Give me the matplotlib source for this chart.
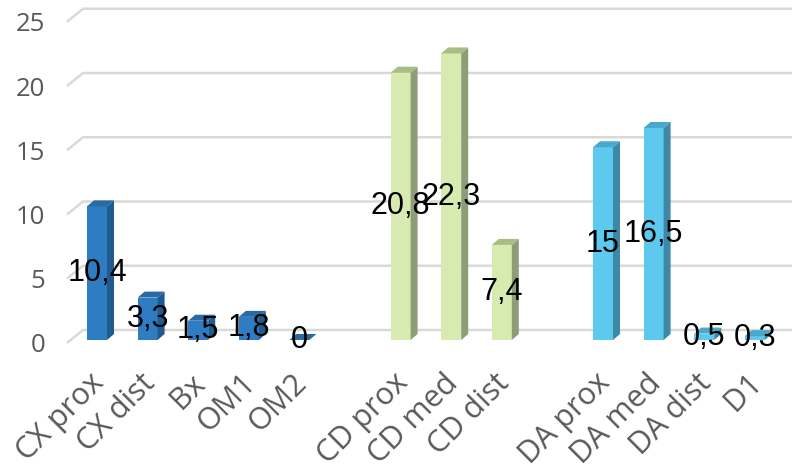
import numpy as np
import matplotlib
matplotlib.use("Agg")
import matplotlib.pyplot as plt
import matplotlib.transforms as mtransforms
from matplotlib.patches import Polygon

# ---- data ----
categories = ["CX prox", "CX dist", "Bx", "OM1", "OM2",
              "CD prox", "CD med", "CD dist",
              "DA prox", "DA med", "DA dist", "D1"]
values = [10.4, 3.3, 1.5, 1.8, 0, 20.8, 22.3, 7.4, 15, 16.5, 0.5, 0.3]
labels = ["10,4", "3,3", "1,5", "1,8", "0", "20,8", "22,3", "7,4",
          "15", "16,5", "0,5", "0,3"]
groups = [0, 0, 0, 0, 0, 1, 1, 1, 2, 2, 2, 2]
positions = [0, 1, 2, 3, 4, 6, 7, 8, 10, 11, 12, 13]
yticks = [0, 5, 10, 15, 20, 25]

# ---- styles ----
front_cols = ["#2E7DC2", "#D7EBB0", "#5DC9EE"]
side_cols = ["#1F5B8E", "#8E9D77", "#3C88A6"]
top_cols = ["#2A6AA3", "#A8BD84", "#49A9CB"]
grid_col = "#D9D9D9"
tick_col = "#595959"

W, H, DPI = 792, 467, 100
fig = plt.figure(figsize=(W / DPI, H / DPI), dpi=DPI)

px_x = 50.6   # pixels per slot
px_y = 12.85  # pixels per unit
left_px, right_px, top_px, bot_px = 67, 792, 8, 343
x0_px, base_px = 97, 340

ax = fig.add_axes([left_px / W, (H - bot_px) / H,
                   (right_px - left_px) / W, (bot_px - top_px) / H])
xlim = ((left_px - x0_px) / px_x, (right_px - x0_px) / px_x)
ylim = ((base_px - bot_px) / px_y, (base_px - top_px) / px_y)
ax.set_xlim(xlim)
ax.set_ylim(ylim)
for s in ax.spines.values():
    s.set_visible(False)

# depth offsets (data units)
g_front_dy = -3 / px_y
g_back_dy = 10 / px_y
g_back_dx = 16 / px_x
b_dx = 7 / px_x
b_dy = 6 / px_y
bw = 20 / px_x

# gridlines (3D floor/back wall look)
for t in yticks:
    yf = t + g_front_dy
    yb = t + g_back_dy
    ax.plot([xlim[0], xlim[0] + g_back_dx, xlim[1]], [yf, yb, yb],
            color=grid_col, lw=1.8, zorder=1, solid_capstyle="butt",
            clip_on=False)

# bars
for p, v, g in zip(positions, values, groups):
    xl, xr = p - bw / 2, p + bw / 2
    ax.bar(p, v, width=bw, bottom=0, color=front_cols[g], zorder=3,
           linewidth=0)
    side = Polygon([(xr, 0), (xr + b_dx, b_dy), (xr + b_dx, v + b_dy), (xr, v)],
                   closed=True, facecolor=side_cols[g], edgecolor="none", zorder=3)
    top = Polygon([(xl, v), (xr, v), (xr + b_dx, v + b_dy), (xl + b_dx, v + b_dy)],
                  closed=True, facecolor=top_cols[g], edgecolor="none", zorder=3)
    ax.add_patch(side)
    ax.add_patch(top)

# data labels (centered in bars)
for p, v, lab in zip(positions, values, labels):
    ax.text(p, v / 2, lab, ha="center", va="center", fontsize=22,
            family=["Liberation Sans", "DejaVu Sans"], color="black", zorder=5)

# y ticks on the front plane
ax.set_yticks([t + g_front_dy for t in yticks], [str(t) for t in yticks])
ax.tick_params(axis="y", length=0, pad=15.5, labelsize=18.5, labelcolor=tick_col)
# x ticks
ax.set_xticks(positions, categories)
ax.tick_params(axis="x", length=0, pad=18, labelsize=22, labelcolor=tick_col)
shift = mtransforms.ScaledTranslation(-8 / DPI, 0, fig.dpi_scale_trans)
for lbl in ax.get_xticklabels():
    lbl.set_rotation(45)
    lbl.set_ha("right")
    lbl.set_rotation_mode("anchor")
    lbl.set_transform(lbl.get_transform() + shift)
for lbl in ax.get_xticklabels() + ax.get_yticklabels():
    lbl.set_family(["Open Sans", "DejaVu Sans"])

fig.savefig("out.png", dpi=DPI)
